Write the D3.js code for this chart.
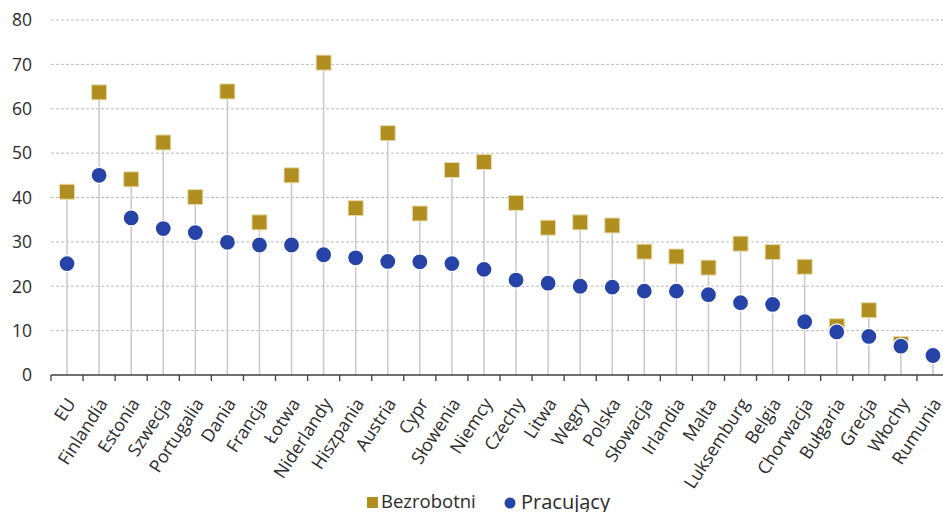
<!DOCTYPE html>
<html><head><meta charset="utf-8">
<script src="https://cdn.jsdelivr.net/npm/d3@7"></script>
<style>body{margin:0;background:#fff}svg{display:block}</style>
</head><body>
<svg id="c" width="943" height="512"></svg>
<script>
const countries = ["EU","Finlandia","Estonia","Szwecja","Portugalia","Dania","Francja","Łotwa","Niderlandy","Hiszpania","Austria","Cypr","Słowenia","Niemcy","Czechy","Litwa","Węgry","Polska","Słowacja","Irlandia","Malta","Luksemburg","Belgia","Chorwacja","Bułgaria","Grecja","Włochy","Rumunia"];
const bezrobotni = [41.3,63.7,44.1,52.4,40.1,63.9,34.4,45.0,70.4,37.6,54.5,36.4,46.2,48.0,38.8,33.2,34.4,33.7,27.8,26.7,24.2,29.6,27.7,24.4,11.0,14.6,7.0,null];
const pracujacy = [25.1,45.0,35.4,33.0,32.1,29.9,29.3,29.3,27.1,26.4,25.6,25.5,25.1,23.8,21.4,20.7,20.0,19.8,18.9,18.9,18.1,16.3,15.9,12.0,9.7,8.7,6.5,4.4];
const yTicks = [0,10,20,30,40,50,60,70,80];
const seriesNames = ["Bezrobotni","Pracujący"];

const svg = d3.select("#c");
const font = "'Open Sans', sans-serif";
const x = d3.scaleBand().domain(countries).range([51, 949]);
const y = d3.scaleLinear().domain([0, 80]).range([375, 20]);

// gridlines
svg.append("g").selectAll("line").data(yTicks.filter(d => d > 0)).join("line")
  .attr("x1", 51).attr("x2", 943)
  .attr("y1", d => y(d)).attr("y2", d => y(d))
  .attr("stroke", "#bdbdbd").attr("stroke-width", 1).attr("stroke-dasharray", "3,2");

// y labels
svg.append("g").selectAll("text").data(yTicks).join("text")
  .attr("x", 32).attr("y", d => y(d)).attr("dy", "0.36em")
  .attr("text-anchor", "end").attr("font-family", font).attr("font-size", 17.5)
  .attr("fill", "#2b2b2b").text(d => d);

// stems
const cx = d => x(d) + x.bandwidth() / 2;
svg.append("g").selectAll("line").data(countries).join("line")
  .attr("x1", cx).attr("x2", cx)
  .attr("y1", y(0))
  .attr("y2", (d, i) => y(Math.max(bezrobotni[i] ?? 0, pracujacy[i])))
  .attr("stroke", "#c9c9c9").attr("stroke-width", 1.5);

// x axis
const xAxis = svg.append("g").attr("transform", `translate(0,${y(0)})`);
xAxis.append("line").attr("x1", 51).attr("x2", 949).attr("stroke", "#404040").attr("stroke-width", 1.3);
const bounds = countries.map(c => x(c)).concat([x.range()[1]]);
xAxis.selectAll("line.t").data(bounds).join("line").attr("class", "t")
  .attr("x1", d => d).attr("x2", d => d).attr("y1", 0).attr("y2", 6)
  .attr("stroke", "#404040").attr("stroke-width", 1.3);
xAxis.selectAll("text").data(countries).join("text")
  .attr("transform", d => `translate(${cx(d) + 4},${25}) rotate(-57)`)
  .attr("text-anchor", "end").attr("dy", "0.35em")
  .attr("font-family", font).attr("font-size", 17.8).attr("fill", "#2b2b2b")
  .text(d => d);

// squares
const s = 15;
svg.append("g").selectAll("rect").data(countries.map((c, i) => [c, bezrobotni[i]]).filter(d => d[1] != null)).join("rect")
  .attr("x", d => cx(d[0]) - s / 2).attr("y", d => y(d[1]) - s / 2)
  .attr("width", s).attr("height", s)
  .attr("fill", "#B08F20").attr("stroke", "#e8dcae").attr("stroke-width", 1);

// circles
svg.append("g").selectAll("circle").data(countries.map((c, i) => [c, pracujacy[i]])).join("circle")
  .attr("cx", d => cx(d[0])).attr("cy", d => y(d[1])).attr("r", 8)
  .attr("fill", "#2643A8").attr("stroke", "#ffffff").attr("stroke-width", 1.2);

// legend
const lg = svg.append("g");
lg.append("rect").attr("x", 367).attr("y", 497).attr("width", 11).attr("height", 11).attr("fill", "#B08F20");
lg.append("text").attr("x", 381).attr("y", 508).attr("font-family", font).attr("font-size", 18.5).attr("fill", "#2b2b2b").text(seriesNames[0]);
lg.append("circle").attr("cx", 510).attr("cy", 503).attr("r", 5.5).attr("fill", "#2643A8");
lg.append("text").attr("x", 521).attr("y", 509).attr("font-family", font).attr("font-size", 20).attr("fill", "#2b2b2b").text(seriesNames[1]);
</script>
</body></html>
